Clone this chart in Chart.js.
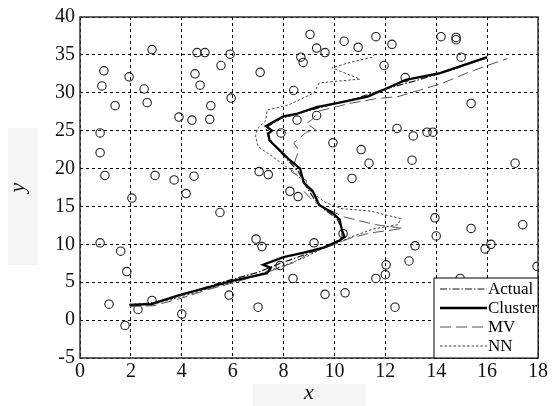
<!DOCTYPE html>
<html>
<head>
<meta charset="utf-8">
<script src="https://cdn.jsdelivr.net/npm/chart.js@4.4.1/dist/chart.umd.min.js"></script>
<style>
  html, body { margin: 0; padding: 0; background: #fff; }
  canvas { display: block; }
</style>
</head>
<body>
<canvas id="chart" width="554" height="406"></canvas>
<script>
// scattered observations (circles)
const obsX = [0.94, 0.86, 1.38, 1.93, 2.83, 2.52, 2.64, 3.89, 4.4, 4.6, 4.52, 4.72, 0.79, 4.91, 5.9, 5.54, 7.08, 5.94, 5.14, 5.1,
  9.04, 9.3, 9.63, 8.68, 8.77, 8.4, 10.38, 10.93, 11.63, 12.26, 11.95, 8.53, 9.3, 7.9, 9.94, 12.46, 14.19, 14.78, 14.78, 14.98,
  12.78, 15.37, 13.1, 13.64, 13.87, 11.05, 11.36, 10.69, 7.04, 7.4, 8.25, 8.57, 5.5, 6.92, 7.15, 9.2, 13.05, 17.1, 13.95, 15.37,
  17.4, 14.0, 13.17, 15.92, 16.15, 12.93, 12.03, 17.96, 12.0, 14.94, 12.38, 2.83, 4.0, 5.86, 7.0, 7.86, 8.37, 10.34, 9.63, 10.42,
  11.63, 1.14, 1.84, 1.77, 2.28, 0.79, 0.98, 2.95, 3.7, 4.48, 4.17, 2.04, 0.79, 1.6];
const obsY = [32.9, 30.9, 28.3, 32.1, 35.7, 30.5, 28.7, 26.8, 26.4, 35.3, 32.5, 31.0, 24.7, 35.3, 35.1, 33.6, 32.7, 29.3, 28.3, 26.5,
  37.7, 35.9, 35.3, 34.7, 34.0, 30.3, 36.8, 36.0, 37.4, 36.4, 33.6, 26.4, 27.0, 24.7, 23.4, 25.3, 37.4, 37.3, 37.0, 34.7,
  32.0, 28.6, 24.3, 24.8, 24.8, 22.5, 20.7, 18.7, 19.6, 19.2, 17.0, 16.3, 14.2, 10.7, 9.7, 10.2, 21.1, 20.7, 13.5, 12.1,
  12.6, 11.1, 9.8, 9.4, 10.0, 7.8, 7.3, 7.1, 6.0, 5.5, 1.7, 2.6, 0.8, 3.3, 1.7, 7.2, 5.5, 11.4, 3.4, 3.6,
  5.5, 2.1, 6.4, -0.7, 1.4, 22.1, 19.1, 19.1, 18.5, 19.0, 16.7, 16.1, 10.2, 9.1];

// trajectories
const actualX = [1.95, 2.9, 4.0, 5.0, 6.0, 7.0, 7.8, 8.8, 9.7, 10.3, 10.3, 10.1, 9.6, 9.2, 8.9, 8.6, 8.2, 7.7, 7.4, 7.3, 7.9, 8.6, 9.6, 10.8, 12.0, 13.2, 14.5, 16.0];
const actualY = [2.0, 2.3, 3.3, 4.4, 5.4, 6.3, 7.4, 8.6, 9.7, 10.8, 12.0, 13.4, 14.6, 16.0, 17.6, 19.5, 21.0, 22.8, 24.2, 25.4, 26.6, 27.3, 28.2, 29.2, 30.5, 31.6, 32.9, 34.6];

const clusterX = [1.95, 2.8, 3.9, 5.0, 5.9, 6.7, 7.35, 7.5, 7.2, 8.0, 8.8, 9.6, 10.2, 10.4, 10.3, 10.2, 9.9, 9.4, 9.15, 8.8, 8.65, 8.25, 7.85, 7.45, 7.4, 7.55, 7.3, 8.0, 8.5, 9.3, 10.2, 11.3, 12.2, 12.8, 14.15, 16.0];
const clusterY = [2.0, 2.1, 3.3, 4.3, 5.1, 5.7, 6.2, 6.9, 7.3, 8.3, 8.9, 9.6, 10.5, 11.0, 11.8, 13.3, 14.2, 15.2, 17.0, 18.1, 20.0, 21.1, 22.4, 23.7, 24.6, 25.0, 25.6, 26.9, 27.2, 28.1, 28.7, 29.5, 30.8, 31.7, 32.6, 34.7];

const mvX = [1.95, 2.9, 4.0, 5.0, 6.0, 7.0, 7.6, 8.4, 9.0, 9.5, 10.0, 10.6, 11.4, 12.7, 11.6, 10.4, 9.8, 9.2, 8.8, 8.9, 8.3, 8.6, 8.4, 8.9, 9.3, 8.9, 9.1, 9.4, 10.6, 11.6, 12.5, 13.3, 14.2, 15.2, 16.0, 16.8];
const mvY = [1.8, 1.9, 2.9, 4.0, 4.9, 5.9, 6.6, 7.6, 8.8, 9.4, 10.0, 10.8, 11.5, 12.1, 12.6, 13.6, 14.5, 15.6, 17.0, 18.4, 19.6, 22.4, 23.4, 24.8, 25.0, 26.0, 26.4, 27.6, 28.6, 29.2, 29.5, 30.3, 31.2, 32.6, 33.6, 34.5];

const nnX = [1.95, 3.0, 4.0, 5.0, 6.0, 7.0, 8.0, 8.8, 9.5, 10.0, 10.6, 11.5, 12.5, 12.6, 11.4, 10.3, 9.6, 9.0, 8.7, 8.4, 8.0, 7.6, 7.0, 6.9, 7.0, 7.3, 7.35, 8.2, 9.2, 9.4, 10.0, 11.0, 9.9, 10.6, 11.5, 11.6];
const nnY = [2.1, 2.2, 3.1, 4.1, 5.0, 6.0, 7.2, 8.2, 9.4, 10.0, 10.9, 12.0, 12.6, 13.4, 14.4, 14.7, 15.6, 17.2, 18.6, 19.6, 20.5, 21.5, 22.9, 24.3, 25.4, 26.3, 27.7, 28.4, 30.0, 31.3, 31.5, 31.8, 33.3, 34.0, 34.7, 35.2];

const xTicks = [0, 2, 4, 6, 8, 10, 12, 14, 16, 18];
const yTicks = [-5, 0, 5, 10, 15, 20, 25, 30, 35, 40];
const seriesNames = ['Actual', 'Cluster', 'MV', 'NN'];

const pts = (xs, ys) => xs.map((x, i) => ({x: x, y: ys[i]}));
const serif = 'Liberation Serif, Times New Roman, serif';

const styles = {
  Actual: {color: '#111', width: 1.2, dash: [7, 2, 1.5, 2]},
  Cluster: {color: '#000', width: 2.3, dash: []},
  MV: {color: '#555', width: 1, dash: [11, 5]},
  NN: {color: '#444', width: 1, dash: [2.5, 2]}
};

function lineSet(name, xs, ys) {
  const s = styles[name];
  return {
    label: name, data: pts(xs, ys), showLine: true, pointRadius: 0,
    borderColor: s.color, borderWidth: s.width, borderDash: s.dash,
    backgroundColor: 'transparent', tension: 0
  };
}

const framePlugin = {
  id: 'frame',
  beforeDraw(chart) {
    const ctx = chart.ctx;
    ctx.save();
    ctx.fillStyle = '#f5f5f5';
    ctx.fillRect(8, 128, 30, 137);
    ctx.fillRect(253, 384, 113, 22);
    ctx.restore();
  },
  afterDraw(chart) {
    const ctx = chart.ctx, a = chart.chartArea;
    ctx.save();
    ctx.strokeStyle = '#333';
    ctx.lineWidth = 1.5;
    ctx.strokeRect(a.left, a.top, a.right - a.left, a.bottom - a.top);
    // legend box
    const w = 104, h = 80;
    const lx = a.right - w, ly = a.bottom - h;
    ctx.fillStyle = '#fff';
    ctx.fillRect(lx, ly, w, h);
    ctx.strokeStyle = '#000';
    ctx.lineWidth = 1;
    ctx.strokeRect(lx, ly, w, h);
    ctx.font = '17px ' + serif;
    ctx.textBaseline = 'middle';
    seriesNames.forEach((n, i) => {
      const s = styles[n];
      const yy = ly + 11 + i * 19;
      ctx.beginPath();
      ctx.setLineDash(s.dash);
      ctx.strokeStyle = s.color;
      ctx.lineWidth = s.width;
      ctx.moveTo(lx + 6, yy);
      ctx.lineTo(lx + 53, yy);
      ctx.stroke();
      ctx.setLineDash([]);
      ctx.fillStyle = '#000';
      ctx.fillText(n, lx + 54, yy + 1);
    });
    ctx.restore();
  }
};

new Chart(document.getElementById('chart').getContext('2d'), {
  type: 'scatter',
  data: {
    datasets: [
      lineSet('Actual', actualX, actualY),
      lineSet('Cluster', clusterX, clusterY),
      lineSet('MV', mvX, mvY),
      lineSet('NN', nnX, nnY),
      {
        label: 'obs', data: pts(obsX, obsY), pointStyle: 'circle', pointRadius: 4.2,
        pointBorderColor: '#222', pointBorderWidth: 1.1, pointBackgroundColor: 'transparent', showLine: false
      }
    ]
  },
  options: {
    responsive: false,
    animation: false,
    layout: {padding: {top: 11, right: 16, left: 0, bottom: 0}},
    plugins: {legend: {display: false}, tooltip: {enabled: false}},
    scales: {
      x: {
        type: 'linear', min: 0, max: 18,
        afterBuildTicks: s => { s.ticks = xTicks.map(v => ({value: v})); },
        afterFit: s => { s.height = 48; },
        ticks: {font: {family: serif, size: 20}, color: '#111', padding: 2, maxRotation: 0},
        grid: {color: '#000', lineWidth: 1, drawTicks: false},
        border: {display: false, dash: [3, 3]},
        title: {display: true, text: 'x', font: {family: serif, size: 22, style: 'italic'}, color: '#111', padding: {top: 0, bottom: 0}}
      },
      y: {
        type: 'linear', min: -5, max: 40,
        afterBuildTicks: s => { s.ticks = yTicks.map(v => ({value: v})); },
        afterFit: s => { s.width = 80; },
        ticks: {font: {family: serif, size: 20}, color: '#111', padding: 5},
        grid: {color: '#000', lineWidth: 1, drawTicks: false},
        border: {display: false, dash: [3, 3]},
        title: {display: true, text: 'y', font: {family: serif, size: 22, style: 'italic'}, color: '#111', padding: {top: 5, bottom: 4}}
      }
    }
  },
  plugins: [framePlugin]
});
</script>
</body>
</html>
